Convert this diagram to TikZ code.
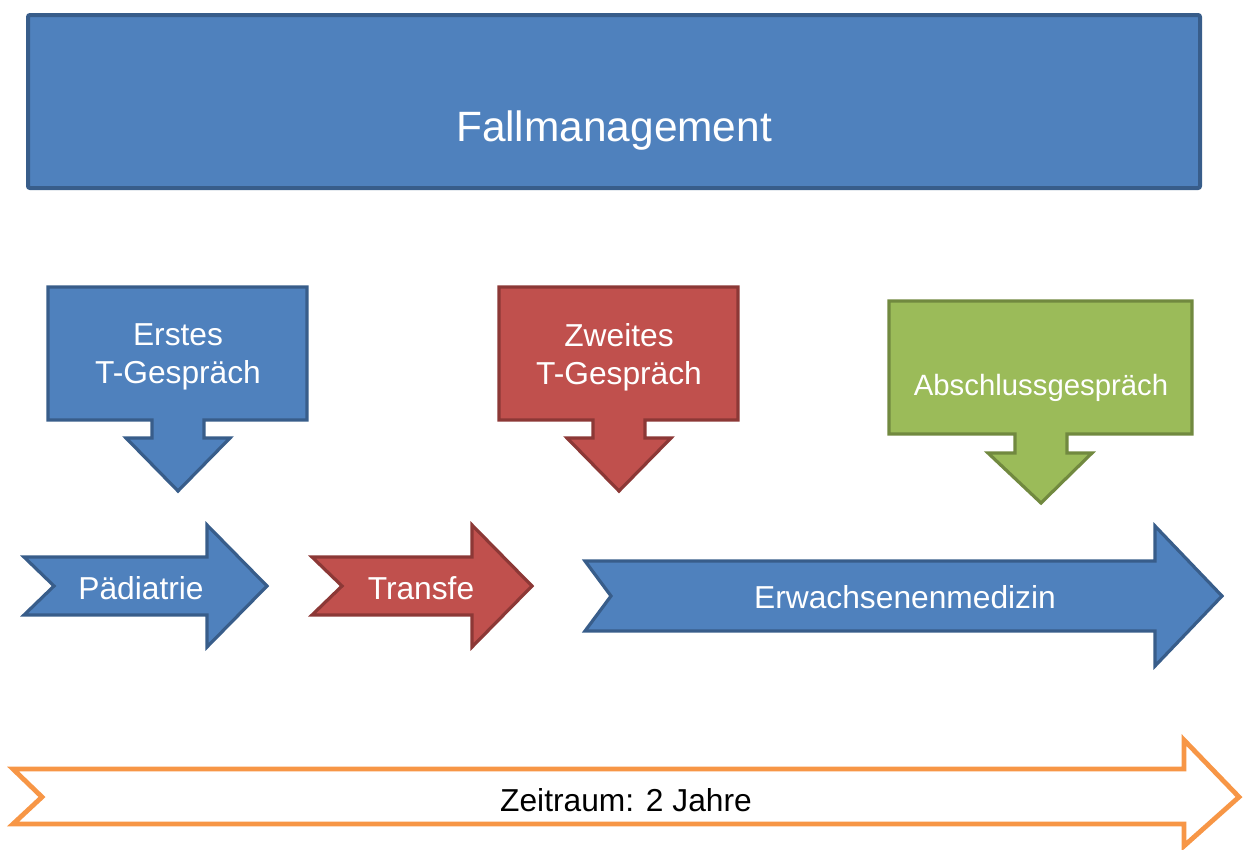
\documentclass[tikz,border=0pt]{standalone}
\usepackage{fontspec}
\setmainfont{Liberation Sans}
\begin{document}
\begin{tikzpicture}[x=0.75pt,y=-0.75pt,
  shp/.style={line width=2.4pt,line join=miter,miter limit=10},
  bluefill/.style={shp,fill={rgb,255:red,79;green,129;blue,189},draw={rgb,255:red,56;green,93;blue,138}},
  redfill/.style={shp,fill={rgb,255:red,192;green,80;blue,77},draw={rgb,255:red,140;green,56;blue,54}},
  greenfill/.style={shp,fill={rgb,255:red,155;green,187;blue,89},draw={rgb,255:red,113;green,137;blue,63}},
  timeline/.style={line width=3.6pt,line join=miter,miter limit=10,fill=white,draw={rgb,255:red,247;green,150;blue,70}},
  lbl/.style={text=white,font=\fontsize{23.8}{28.5}\selectfont,align=center,inner sep=0pt},
  titlelbl/.style={text=white,font=\fontsize{31.8}{38}\selectfont,inner sep=0pt},
  smalllbl/.style={text=white,font=\fontsize{22}{26}\selectfont,inner sep=0pt},
  darklbl/.style={text=black,font=\fontsize{23.8}{28.5}\selectfont,inner sep=0pt}]
\useasboundingbox (0,0) rectangle (1243,850);

% top bar
\draw[bluefill,line width=3pt,rounded corners=1.5pt] (28,15) rectangle (1200,188);
\node[titlelbl] (fall) at (614,131) {Fallmanagement};

% down-pointing callouts
\draw[bluefill] (48,287) -- (307,287) -- (307,420) -- (204,420) -- (204,438) -- (230,438)
  -- (178,491) -- (126,438) -- (152,438) -- (152,420) -- (48,420) -- cycle;
\node[lbl] (erstes) at (178,357) {Erstes\\T-Gespräch};

\draw[redfill] (499,287) -- (738,287) -- (738,420) -- (645,420) -- (645,438) -- (671,438)
  -- (619,491) -- (567,438) -- (593,438) -- (593,420) -- (499,420) -- cycle;
\node[lbl] (zweites) at (619,357) {Zweites\\T-Gespräch};

\draw[greenfill] (889,301) -- (1192,301) -- (1192,434) -- (1067,434) -- (1067,453) -- (1092,453)
  -- (1041,503) -- (988,453) -- (1015,453) -- (1015,434) -- (889,434) -- cycle;
\node[smalllbl] (abschluss) at (1041,388) {Abschlussgespräch};

% phase chevrons
\draw[bluefill] (24,557) -- (207,557) -- (207,525) -- (267,586) -- (207,647) -- (207,615)
  -- (24,615) -- (54,586) -- cycle;
\node[lbl] (paed) at (141,588) {Pädiatrie};

\draw[redfill] (312,557) -- (472,557) -- (472,525) -- (532,586) -- (472,647) -- (472,615)
  -- (312,615) -- (342,586) -- cycle;
\node[lbl] (transfe) at (421,588) {Transfe};

\draw[bluefill] (585,561) -- (1155,561) -- (1155,526) -- (1222,596) -- (1155,666) -- (1155,631)
  -- (585,631) -- (611,596) -- cycle;
\node[lbl] (erw) at (905,597) {Erwachsenenmedizin};

% time span
\draw[timeline] (13,769) -- (1184,769) -- (1184,740) -- (1239,797) -- (1184,846) -- (1184,824)
  -- (13,824) -- (42,797) -- cycle;
\node[darklbl] (zeit) at (626,800) {Zeitraum: 2 Jahre};
\end{tikzpicture}
\end{document}
